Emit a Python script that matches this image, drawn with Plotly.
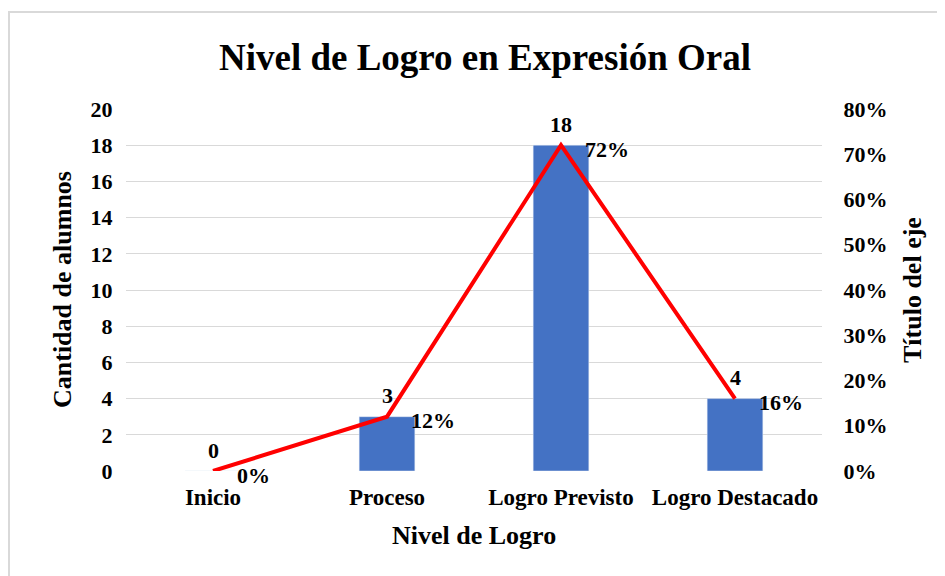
import plotly.graph_objects as go

categories = ["Inicio", "Proceso", "Logro Previsto", "Logro Destacado"]
cantidad = [0, 3, 18, 4]
porcentaje = [0.0, 0.12, 0.72, 0.16]
pct_labels = ["0%", "12%", "72%", "16%"]

FONT = "Liberation Serif, Times New Roman, serif"
OFF = 8  # page body margin
W, H = 945 - OFF, 576 - OFF
# plot area in page pixels: x 126..822, y 109..471
L = 126 - OFF
T = 109 - OFF
R = W - (822 - OFF)
B = H - (471 - OFF)
pw, ph = W - L - R, H - T - B

def px_to_paper_x(px):
    return (px - OFF - L) / pw

def px_to_paper_y(py):
    return (H - B - (py - OFF)) / ph

fig = go.Figure()
fig.add_trace(go.Bar(
    x=categories, y=cantidad, marker_color="#4472C4", name="Cantidad",
    showlegend=False, hoverinfo="skip",
))
fig.add_trace(go.Scatter(
    x=categories, y=porcentaje, yaxis="y2", mode="lines",
    line=dict(color="#FF0000", width=4), showlegend=False, hoverinfo="skip",
))

annotations = []
for c, v in zip(categories, cantidad):
    annotations.append(dict(
        x=c, y=v, xref="x", yref="y", text=f"<b>{v}</b>", showarrow=False,
        xanchor="center", yanchor="middle", yshift=21,
        font=dict(family=FONT, size=22, color="black"),
    ))
for c, p, t in zip(categories, porcentaje, pct_labels):
    annotations.append(dict(
        x=c, y=p, xref="x", yref="y2", text=f"<b>{t}</b>", showarrow=False,
        xanchor="left", yanchor="middle", xshift=22, yshift=-4,
        font=dict(family=FONT, size=22, color="black"),
    ))
# axis titles
annotations.append(dict(
    x=px_to_paper_x(62), y=px_to_paper_y(290), xref="paper", yref="paper",
    text="<b>Cantidad de alumnos</b>", textangle=-90, showarrow=False,
    xanchor="center", yanchor="middle", font=dict(family=FONT, size=26, color="black"),
))
annotations.append(dict(
    x=px_to_paper_x(912), y=px_to_paper_y(290), xref="paper", yref="paper",
    text="<b>Título del eje</b>", textangle=-90, showarrow=False,
    xanchor="center", yanchor="middle", font=dict(family=FONT, size=26, color="black"),
))
annotations.append(dict(
    x=0.5, y=px_to_paper_y(535), xref="paper", yref="paper",
    text="<b>Nivel de Logro</b>", showarrow=False,
    xanchor="center", yanchor="middle", font=dict(family=FONT, size=26, color="black"),
))

tickfont = dict(family=FONT, size=22, color="black", weight="bold")
xtickfont = dict(family=FONT, size=23, color="black", weight="bold")

fig.update_layout(
    width=W, height=H,
    margin=dict(l=L, r=R, t=T, b=B),
    paper_bgcolor="white", plot_bgcolor="white",
    bargap=0.68,
    title=dict(
        text="<b>Nivel de Logro en Expresión Oral</b>",
        x=(485 - OFF) / W, xanchor="center", xref="container",
        y=1 - (57 - OFF) / H, yanchor="middle", yref="container",
        font=dict(family=FONT, size=37, color="black"),
    ),
    xaxis=dict(
        showgrid=False, showline=False, zeroline=False,
        ticks="outside", ticklen=5, tickcolor="rgba(0,0,0,0)",
        tickfont=xtickfont,
    ),
    yaxis=dict(
        range=[0, 20], dtick=2, showgrid=True, gridcolor="#d9d9d9", gridwidth=1,
        zeroline=False, showline=False,
        ticks="outside", ticklen=8, tickcolor="rgba(0,0,0,0)",
        tickfont=tickfont,
    ),
    yaxis2=dict(
        range=[0, 0.8], dtick=0.1, tickformat=".0%", overlaying="y", side="right",
        showgrid=False, zeroline=False, showline=False,
        ticks="outside", ticklen=16, tickcolor="rgba(0,0,0,0)",
        tickfont=tickfont,
    ),
    annotations=annotations,
    shapes=[dict(
        type="rect", xref="paper", yref="paper",
        x0=px_to_paper_x(OFF + 1), x1=px_to_paper_x(960),
        y0=px_to_paper_y(600), y1=px_to_paper_y(12),
        line=dict(color="#d9d9d9", width=2), fillcolor="rgba(0,0,0,0)", layer="below",
    )],
)

fig.write_html("out.html")
